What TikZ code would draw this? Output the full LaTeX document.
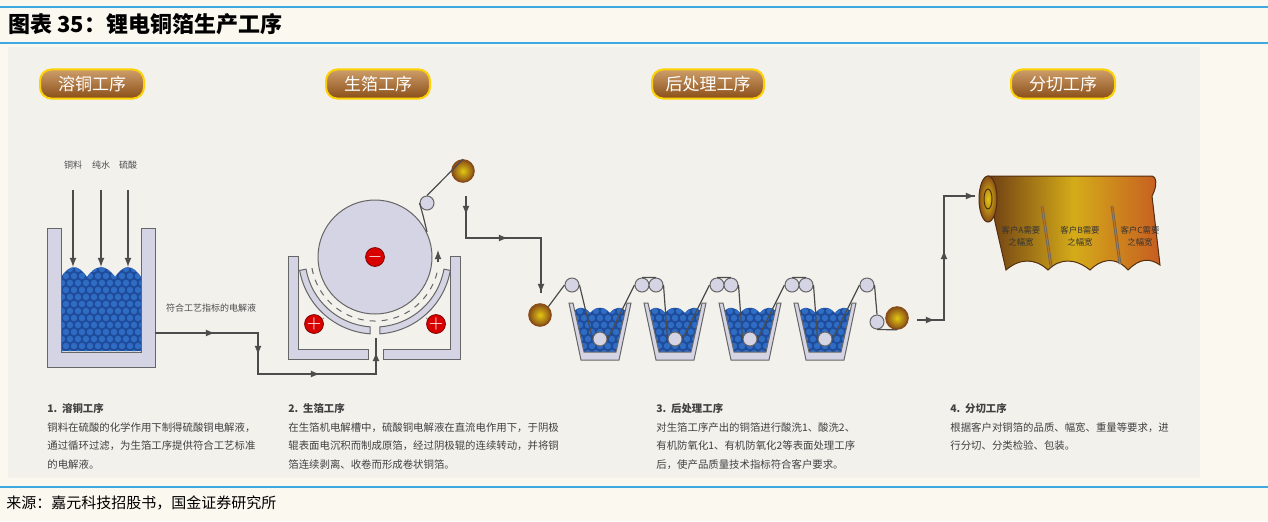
\documentclass[tikz,border=0pt]{standalone}
\usepackage{fontspec}
\setmainfont{Liberation Sans}
\newfontfamily\cjk{Noto Sans CJK SC}
\usetikzlibrary{arrows, calc, positioning}
\definecolor{paper}{HTML}{FBF8F0}
\definecolor{panel}{HTML}{F3F1EC}
\definecolor{rule}{HTML}{3EA8E0}
\definecolor{tankgray}{HTML}{D5D4E4}
\definecolor{liquid}{HTML}{1E4C9A}
\definecolor{bubble}{HTML}{2F6CC4}
\definecolor{copper}{HTML}{B8742A}
\definecolor{copperdark}{HTML}{8A4E18}
\tikzstyle{stage} = [rectangle, rounded corners=2mm, draw=yellow!70!orange, line width=1pt, top color=copper!70!white, bottom color=copperdark, text=white, minimum height=13pt, font=\cjk\fontsize{8.5}{9}\selectfont]
\tikzstyle{body} = [anchor=north west, align=left, text=black!75, font=\cjk\fontsize{5.2}{9.3}\selectfont, inner sep=0pt]
\tikzstyle{small} = [text=black!70, font=\cjk\fontsize{4.5}{5}\selectfont, inner sep=1pt]
\tikzstyle{wall} = [fill=tankgray, draw=black!60, line width=0.5pt]
\tikzstyle{pipe} = [draw=black!70, line width=0.6pt, -latex]
\tikzstyle{pipeline} = [draw=black!70, line width=0.6pt]
\tikzstyle{spool} = [circle, draw=copperdark, line width=0.8pt, inner color=yellow!60!copper, outer color=copperdark, minimum size=11pt, inner sep=0pt]
\tikzstyle{roller} = [circle, draw=black!60, fill=tankgray, line width=0.5pt, minimum size=7pt, inner sep=0pt]
\tikzstyle{charge} = [circle, draw=red!50!black, fill=red!85!black, text=white, minimum size=9pt, inner sep=0pt, font=\bfseries\fontsize{9}{9}\selectfont]
\newcommand{\bubbles}[4]{% x0 y0 x1 y1
  \fill[liquid] (#1,#2) rectangle (#3,#4);
  \foreach \r in {0,...,14} {
    \foreach \c in {0,...,24} {
      \fill[bubble] ({#1+\c*8+mod(\r,2)*4}, {#2+\r*7}) circle (3.2);
    }
  }
}
\begin{document}
\begin{tikzpicture}[x=0.5pt, y=-0.5pt]
\useasboundingbox (0,0) rectangle (1268,521);
\fill[paper] (0,0) rectangle (1268,521);
\fill[panel] (8,47) rectangle (1200,478);
\draw[rule, line width=1.2pt] (0,7) -- (1268,7);
\draw[rule, line width=0.8pt] (0,43) -- (1268,43);
\draw[rule, line width=1.2pt] (0,487) -- (1268,487);
\node (Title) [anchor=west, inner sep=0pt, font=\cjk\bfseries\fontsize{11}{12}\selectfont] at (8,24) {图表 35：锂电铜箔生产工序};
\node (Source) [anchor=west, inner sep=0pt, font=\cjk\fontsize{7.5}{8}\selectfont] at (6,503) {来源：嘉元科技招股书，国金证券研究所};

% stage labels
\node (StageA) [stage, minimum width=52pt] at (92,84) {溶铜工序};
\node (StageB) [stage, minimum width=52pt] at (378,84) {生箔工序};
\node (StageC) [stage, minimum width=56pt] at (708,84) {后处理工序};
\node (StageD) [stage, minimum width=52pt] at (1063,84) {分切工序};

% dissolving tank
\begin{scope}
\clip (61,277) .. controls (70,264) and (78,264) .. (87,277) .. controls (96,264) and (106,264) .. (115,277) .. controls (124,264) and (132,264) .. (141,277) -- (141,351) -- (61,351) -- cycle;
\bubbles{58}{262}{145}{352}
\end{scope}
\draw[wall] (47,228) -- (61,228) -- (61,352) -- (141,352) -- (141,228) -- (155,228) -- (155,367) -- (47,367) -- cycle;
\node (Copper) [small] at (73,165) {铜料};
\node (Water) [small] at (101,165) {纯水};
\node (Acid) [small] at (128,165) {硫酸};
\foreach \n/\x in {Copper/73, Water/101, Acid/128} {
  \coordinate (\n In) at (\x,267);
  \draw[pipe] (\x,190) -- (\n In);
}
\coordinate (TankOut) at (155,333);
\coordinate (DrumIn) at (376,338);
\node (Electrolyte) [small] at (211,308) {符合工艺指标的电解液};
\draw[pipeline] (TankOut) -- (258,333) -- (258,374) -- (376,374) -- (DrumIn);
\draw[pipe] (TankOut) -- (215,333);
\draw[pipe] (258,333) -- (258,355);
\draw[pipe] (258,374) -- (320,374);
\draw[pipe] (376,374) -- (376,352);

% foil machine
\draw[wall] (288,256) -- (298,256) -- (298,349) -- (368,349) -- (368,359) -- (288,359) -- cycle;
\draw[wall] (383,349) -- (450,349) -- (450,256) -- (460,256) -- (460,359) -- (383,359) -- cycle;
\node (Drum) [circle, draw=black!60, fill=tankgray, line width=0.5pt, minimum size=114pt*0.5, inner sep=0pt] at (375,257) {};
\draw[wall] ($(Drum.center)+(170:70)$) arc (170:94:70) -- ++(0,7) arc (94:170:77) -- cycle;
\draw[wall] ($(Drum.center)+(10:70)$) arc (10:86:70) -- ++(0,7) arc (86:10:77) -- cycle;
\draw[black!60, dashed, line width=0.5pt] ($(Drum.center)+(170:64)$) arc (170:10:64);
\node (Cathode) [charge] at (Drum.center) {$-$};
\node (AnodeL) [charge] at (314,324) {$+$};
\node (AnodeR) [charge] at (436,324) {$+$};
\draw[black!50] (AnodeL) -- ++(10,-6);
\draw[black!50] (AnodeR) -- ++(-10,-6);
\node (Guide) [roller] at (427,203) {};
\node (RawFoil) [spool] at (463,171) {};
\draw[pipeline] (Guide.north) -- (RawFoil.north);
\draw[pipeline] (Guide.west) .. controls (423,215) .. (427,232);
\draw[pipe] (438,262) -- (438,250);
\coordinate (PostIn) at (541,293);
\draw[pipeline] (466,196) -- (466,238) -- (541,238) -- (PostIn);
\draw[pipe] (466,196) -- (466,215);
\draw[pipe] (466,238) -- (508,238);
\draw[pipe] (541,238) -- (PostIn);

% post-treatment
\node (Unwind) [spool] at (540,315) {};
\foreach \i/\x in {1/600, 2/675, 3/750, 4/825} {
  \begin{scope}
    \clip (\x-28,313) .. controls (\x-21,306) and (\x-16,306) .. (\x-10,313) .. controls (\x-4,306) and (\x+4,306) .. (\x+10,313) .. controls (\x+16,306) and (\x+21,306) .. (\x+28,313) -- (\x+16,352) -- (\x-16,352) -- cycle;
    \bubbles{\x-32}{304}{\x+32}{354}
  \end{scope}
  \draw[wall] (\x-31,303) -- (\x-27,303) -- (\x-16,352) -- (\x+16,352) -- (\x+27,303) -- (\x+31,303) -- (\x+19,360) -- (\x-19,360) -- cycle;
  \node (Dip\i) [roller] at (\x,339) {};
}
\foreach \i/\x in {1/572, 2/642, 3/656, 4/717, 5/731, 6/792, 7/806, 8/867} {
  \node (Top\i) [roller] at (\x,285) {};
}
\node (Exit) [roller] at (877,322) {};
\node (Rewind) [spool] at (897,318) {};
\draw[pipeline] (Unwind.north east) -- (Top1.west);
\draw[pipeline] (Top1.east) -- (Dip1.west) (Dip1.east) -- (Top2.west) (Top2.north) -- (Top3.north) (Top3.east) -- (Dip2.west) (Dip2.east) -- (Top4.west) (Top4.north) -- (Top5.north) (Top5.east) -- (Dip3.west) (Dip3.east) -- (Top6.west) (Top6.north) -- (Top7.north) (Top7.east) -- (Dip4.west) (Dip4.east) -- (Top8.west) (Top8.east) -- (Exit.north) (Exit.south) -- (Rewind.south);
\coordinate (RollIn) at (975,196);
\draw[pipeline] (917,320) -- (944,320) -- (944,196) -- (RollIn);
\draw[pipe] (917,320) -- (935,320);
\draw[pipe] (944,320) -- (944,250);
\draw[pipe] (944,196) -- (RollIn);

% slitting roll
\shade[left color=copperdark!80!black, right color=copper!80!red, middle color=copper!60!yellow, draw=copperdark!60!black, line width=0.5pt]
  (988,176) -- (1152,176) .. controls (1156,176) and (1158,185) .. (1152,196) -- (1160,265) .. controls (1150,258) and (1140,258) .. (1128,270) .. controls (1115,255) and (1100,260) .. (1090,270) .. controls (1075,258) and (1060,258) .. (1048,270) .. controls (1035,258) and (1020,258) .. (1006,270) -- (995,222) -- cycle;
\shade[inner color=yellow!60!copper, outer color=copperdark, draw=copperdark!60!black, line width=0.5pt] (988,199) ellipse (9 and 23);
\draw[copperdark!60!black, line width=0.5pt] (988,199) ellipse (4 and 10);
\draw[black!60, double=copper, line width=0.4pt] (1042,206) -- (1051,266) (1112,206) -- (1120,264);
\node (CustA) [small, align=center, text=black!80, font=\cjk\fontsize{4.2}{6}\selectfont] at (1021,236) {客户A需要\\之幅宽};
\node (CustB) [small, align=center, text=black!80, font=\cjk\fontsize{4.2}{6}\selectfont] at (1080,236) {客户B需要\\之幅宽};
\node (CustC) [small, align=center, text=black!80, font=\cjk\fontsize{4.2}{6}\selectfont] at (1140,236) {客户C需要\\之幅宽};

% descriptions
\node (DescA) [body] at (47,403) {\textbf{1.\ \ 溶铜工序}\\铜料在硫酸的化学作用下制得硫酸铜电解液，\\通过循环过滤，为生箔工序提供符合工艺标准\\的电解液。};
\node (DescB) [body] at (288,403) {\textbf{2.\ \ 生箔工序}\\在生箔机电解槽中，硫酸铜电解液在直流电作用下，于阴极\\辊表面电沉积而制成原箔，经过阴极辊的连续转动，并将铜\\箔连续剥离、收卷而形成卷状铜箔。};
\node (DescC) [body] at (656,403) {\textbf{3.\ \ 后处理工序}\\对生箔工序产出的铜箔进行酸洗1、酸洗2、\\有机防氧化1、有机防氧化2等表面处理工序\\后，使产品质量技术指标符合客户要求。};
\node (DescD) [body] at (950,403) {\textbf{4.\ \ 分切工序}\\根据客户对铜箔的品质、幅宽、重量等要求，进\\行分切、分类检验、包装。};
\end{tikzpicture}
\end{document}
